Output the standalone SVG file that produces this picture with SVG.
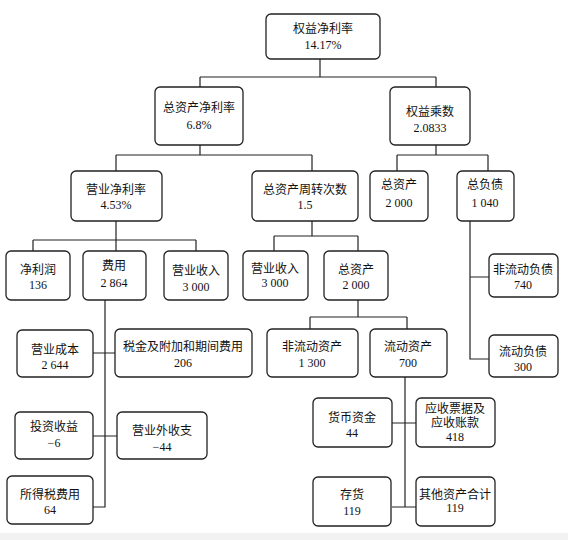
<svg xmlns="http://www.w3.org/2000/svg" width="568" height="540" viewBox="0 0 568 540">
<style>
.b{fill:#fff;stroke:#222;stroke-width:1.3}
.t{font-family:"Liberation Serif","Noto Sans CJK SC",serif;font-size:12px;text-anchor:middle;fill:#111}
.c{fill:none;stroke:#222;stroke-width:1.2}
</style>
<rect width="568" height="540" fill="#fff"/>
<rect x="0" y="533" width="568" height="7" fill="#f2f2f2"/>
<g id="connectors" class="c">
<path d="M320 59V77M200 77H436M200 77V87M436 77V87"/>
<path d="M200 145V155M116 155H312M116 155V171M312 155V171"/>
<path d="M436 145V155M397 155H488M397 155V171M488 155V171"/>
<path d="M116 221V251M33 240H196M33 240V251M196 240V251"/>
<path d="M312 221V236M274 236H358M274 236V251M358 236V251"/>
<path d="M470 221V359H489M470 277H489"/>
<path d="M105 300V507H93M93 353H115M93 436H117"/>
<path d="M358 300V317M310 317H407M310 317V329M407 317V329"/>
<path d="M405 377V507M392 423H416M392 507H416"/>
</g>
<g id="n1"><rect class="b" x="266" y="14" width="114" height="45" rx="5"/><text class="t" x="323" y="33">权益净利率</text><text class="t" x="323" y="49">14.17%</text></g>
<g id="n2"><rect class="b" x="155" y="87" width="88" height="58" rx="5"/><text class="t" x="199" y="112">总资产净利率</text><text class="t" x="199" y="129">6.8%</text></g>
<g id="n3"><rect class="b" x="390" y="87" width="80" height="58" rx="5"/><text class="t" x="430" y="116">权益乘数</text><text class="t" x="430" y="132">2.0833</text></g>
<g id="n4"><rect class="b" x="71" y="171" width="91" height="50" rx="5"/><text class="t" x="116" y="194">营业净利率</text><text class="t" x="116" y="209">4.53%</text></g>
<g id="n5"><rect class="b" x="252" y="171" width="106" height="50" rx="5"/><text class="t" x="305" y="194">总资产周转次数</text><text class="t" x="305" y="209">1.5</text></g>
<g id="n6"><rect class="b" x="370" y="171" width="58" height="50" rx="5"/><text class="t" x="399" y="189">总资产</text><text class="t" x="399" y="207">2 000</text></g>
<g id="n7"><rect class="b" x="457" y="171" width="57" height="50" rx="5"/><text class="t" x="485" y="189">总负债</text><text class="t" x="485" y="207">1 040</text></g>
<g id="n8"><rect class="b" x="6" y="251" width="64" height="49" rx="5"/><text class="t" x="38" y="274">净利润</text><text class="t" x="38" y="289">136</text></g>
<g id="n9"><rect class="b" x="83" y="251" width="63" height="49" rx="5"/><text class="t" x="114" y="270">费用</text><text class="t" x="114" y="287">2 864</text></g>
<g id="n10"><rect class="b" x="164" y="251" width="64" height="49" rx="5"/><text class="t" x="196" y="275">营业收入</text><text class="t" x="196" y="291">3 000</text></g>
<g id="n11"><rect class="b" x="243" y="251" width="65" height="49" rx="5"/><text class="t" x="275" y="273">营业收入</text><text class="t" x="275" y="287">3 000</text></g>
<g id="n12"><rect class="b" x="324" y="251" width="64" height="49" rx="5"/><text class="t" x="356" y="274">总资产</text><text class="t" x="356" y="289">2 000</text></g>
<g id="n13"><rect class="b" x="489" y="254" width="69" height="43" rx="5"/><text class="t" x="523" y="274">非流动负债</text><text class="t" x="523" y="289">740</text></g>
<g id="n14"><rect class="b" x="17" y="330" width="76" height="47" rx="5"/><text class="t" x="55" y="354">营业成本</text><text class="t" x="55" y="369">2 644</text></g>
<g id="n15"><rect class="b" x="115" y="329" width="137" height="48" rx="5"/><text class="t" x="183" y="351">税金及附加和期间费用</text><text class="t" x="183" y="367">206</text></g>
<g id="n16"><rect class="b" x="267" y="329" width="91" height="48" rx="5"/><text class="t" x="312" y="351">非流动资产</text><text class="t" x="312" y="367">1 300</text></g>
<g id="n17"><rect class="b" x="370" y="329" width="77" height="48" rx="5"/><text class="t" x="408" y="351">流动资产</text><text class="t" x="408" y="367">700</text></g>
<g id="n18"><rect class="b" x="489" y="335" width="69" height="42" rx="5"/><text class="t" x="523" y="356">流动负债</text><text class="t" x="523" y="371">300</text></g>
<g id="n19"><rect class="b" x="15" y="412" width="78" height="47" rx="5"/><text class="t" x="54" y="431">投资收益</text><text class="t" x="54" y="447">−6</text></g>
<g id="n20"><rect class="b" x="117" y="412" width="90" height="47" rx="5"/><text class="t" x="162" y="435">营业外收支</text><text class="t" x="162" y="451">−44</text></g>
<g id="n21"><rect class="b" x="7" y="476" width="86" height="48" rx="5"/><text class="t" x="50" y="499">所得税费用</text><text class="t" x="50" y="514">64</text></g>
<g id="n22"><rect class="b" x="313" y="398" width="79" height="49" rx="5"/><text class="t" x="352" y="422">货币资金</text><text class="t" x="352" y="437">44</text></g>
<g id="n23"><rect class="b" x="416" y="398" width="79" height="49" rx="5"/><text class="t" x="455" y="413">应收票据及</text><text class="t" x="455" y="427">应收账款</text><text class="t" x="455" y="441">418</text></g>
<g id="n24"><rect class="b" x="313" y="477" width="78" height="49" rx="5"/><text class="t" x="352" y="499">存货</text><text class="t" x="352" y="515">119</text></g>
<g id="n25"><rect class="b" x="416" y="477" width="79" height="49" rx="5"/><text class="t" x="455" y="499">其他资产合计</text><text class="t" x="455" y="512">119</text></g>
</svg>
